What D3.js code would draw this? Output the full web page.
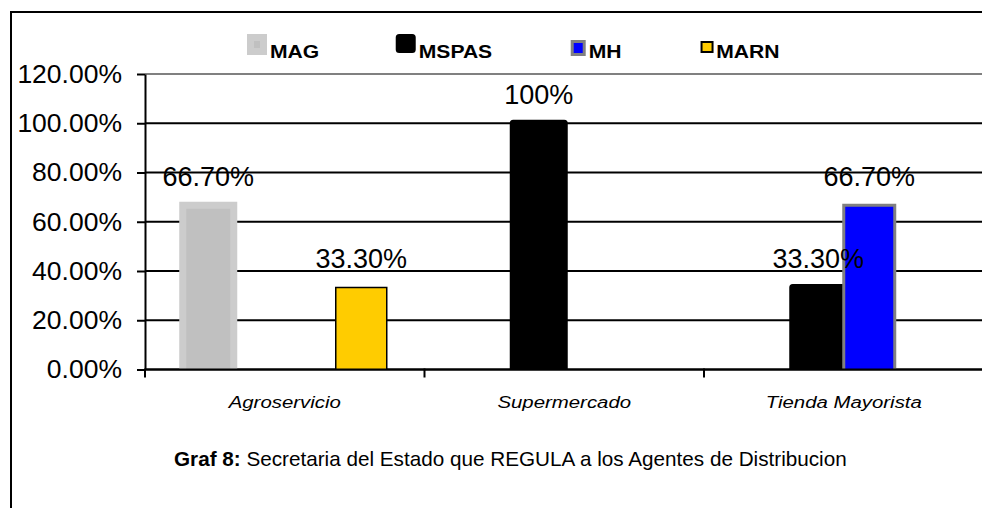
<!DOCTYPE html>
<html>
<head>
<meta charset="utf-8">
<script src="https://cdn.jsdelivr.net/npm/d3@7"></script>
<style>
  body { margin: 0; background: #fff; }
  svg { display: block; font-family: "Liberation Sans", Arial, sans-serif; }
</style>
</head>
<body>
<div id="chart"></div>
<script>
// chart values
var categories = ["Agroservicio", "Supermercado", "Tienda Mayorista"];
var seriesNames = ["MAG", "MSPAS", "MH", "MARN"];
var magValues   = [66.7, 0, 0];
var mspasValues = [0, 100, 33.3];
var mhValues    = [0, 0, 66.7];
var marnValues  = [33.3, 0, 0];
var magLabels   = ["66.70%", "", ""];
var mspasLabels = ["", "100%", "33.30%"];
var mhLabels    = ["", "", "66.70%"];
var marnLabels  = ["33.30%", "", ""];
var yTicks = [0, 20, 40, 60, 80, 100, 120];
var captionBold = "Graf 8:";
var captionText = " Secretaria del Estado que REGULA a los Agentes de Distribucion";

var W = 982, H = 508;
var stretch = 1.2; // the source text is a little wider than Arial

// series styles (fill, stroke, stroke width, join)
var styles = {
	MAG:   { fill: "#c0c0c0", stroke: "#cccccc", sw: 7,   join: "miter" },
	MSPAS: { fill: "#000000", stroke: "#000000", sw: 7,   join: "round" },
	MH:    { fill: "#0000ff", stroke: "#808080", sw: 3,   join: "miter" },
	MARN:  { fill: "#ffcc00", stroke: "#000000", sw: 1.5, join: "miter" }
};

var series = [
	{ name: "MAG",   values: magValues,   labels: magLabels },
	{ name: "MSPAS", values: mspasValues, labels: mspasLabels },
	{ name: "MH",    values: mhValues,    labels: mhLabels },
	{ name: "MARN",  values: marnValues,  labels: marnLabels }
];

// plot area (window.top is reserved, so use other names)
var plotLeft = 145, plotRight = 983.5, plotTop = 74, plotBottom = 369.5;

var x0 = d3.scaleBand().domain(categories).range([plotLeft, plotRight]);
var x1 = d3.scaleBand().domain(seriesNames).range([-102, 102]);
var y = d3.scaleLinear().domain([0, 120]).range([plotBottom, plotTop]);

var svg = d3.select("#chart").append("svg")
	.attr("width", W)
	.attr("height", H);

// outer frame (only top and left visible)
svg.append("path")
	.attr("d", "M11," + H + "V12H" + W)
	.attr("fill", "none")
	.attr("stroke", "#000")
	.attr("stroke-width", 2);

svg.append("clipPath").attr("id", "plotclip")
	.append("rect")
	.attr("x", plotLeft).attr("y", 0)
	.attr("width", plotRight - plotLeft).attr("height", plotBottom);

// gridlines
svg.append("g")
	.selectAll("line")
	.data(yTicks)
	.enter().append("line")
	.attr("x1", plotLeft).attr("x2", plotRight)
	.attr("y1", function(d) { return y(d); })
	.attr("y2", function(d) { return y(d); })
	.attr("stroke", function(d) { return d == 120 ? "#808080" : "#000"; })
	.attr("stroke-width", 2);

// bars
var barData = [];
series.forEach(function(s) {
	s.values.forEach(function(v, i) {
		if (v > 0) barData.push({ series: s.name, cat: categories[i], value: v, label: s.labels[i] });
	});
});

svg.append("g")
	.attr("clip-path", "url(#plotclip)")
	.selectAll("rect")
	.data(barData)
	.enter().append("rect")
	.attr("x", function(d) { return x0(d.cat) + x0.bandwidth() / 2 + x1(d.series); })
	.attr("width", x1.bandwidth())
	.attr("y", function(d) { return y(d.value); })
	.attr("height", function(d) { return plotBottom - y(d.value) + 10; })
	.attr("fill", function(d) { return styles[d.series].fill; })
	.attr("stroke", function(d) { return styles[d.series].stroke; })
	.attr("stroke-width", function(d) { return styles[d.series].sw; })
	.attr("stroke-linejoin", function(d) { return styles[d.series].join; });

// y axis
var yAxis = svg.append("g")
	.attr("transform", "translate(" + plotLeft + ",0)")
	.call(d3.axisLeft(y).tickValues(yTicks).tickSize(8).tickSizeOuter(0).tickPadding(15)
		.tickFormat(function(d) { return d3.format(".2f")(d) + "%"; }));
yAxis.select(".domain").attr("stroke", "#000").attr("stroke-width", 2);
yAxis.selectAll(".tick line").attr("stroke", "#000").attr("stroke-width", 2);
yAxis.selectAll(".tick text")
	.attr("fill", "#000")
	.style("font-size", "26.5px")
	.style("font-family", "'Liberation Sans', Arial, sans-serif");

// x axis line and boundary ticks
svg.append("line")
	.attr("x1", plotLeft).attr("x2", plotRight)
	.attr("y1", plotBottom).attr("y2", plotBottom)
	.attr("stroke", "#000").attr("stroke-width", 2);

svg.append("g")
	.selectAll("line")
	.data(categories)
	.enter().append("line")
	.attr("x1", function(d) { return x0(d); })
	.attr("x2", function(d) { return x0(d); })
	.attr("y1", plotBottom - 1).attr("y2", plotBottom + 8)
	.attr("stroke", "#000").attr("stroke-width", 2);

var xAxis = svg.append("g")
	.attr("transform", "translate(0," + plotBottom + ")")
	.call(d3.axisBottom(x0).tickSize(0).tickPadding(26.5));
xAxis.select(".domain").remove();
xAxis.selectAll(".tick text")
	.attr("fill", "#000")
	.attr("transform", "scale(" + stretch + ",1)")
	.style("font-size", "17px")
	.style("font-style", "italic")
	.style("font-family", "'Liberation Sans', Arial, sans-serif");

// value labels
svg.append("g")
	.selectAll("text")
	.data(barData)
	.enter().append("text")
	.attr("x", function(d) { return x0(d.cat) + x0.bandwidth() / 2 + x1(d.series) + x1.bandwidth() / 2; })
	.attr("y", function(d) { return y(d.value) - 19.5; })
	.attr("text-anchor", "middle")
	.style("font-size", "27px")
	.text(function(d) { return d.label; });

// legend
var legend = svg.append("g");
var lx = 250.5;
seriesNames.forEach(function(name) {
	var st = styles[name];
	var box = { MAG: [13, 14, 37.5], MSPAS: [13, 12, 37.5], MH: [12, 13, 41.5], MARN: [11, 10, 42] }[name];
	legend.append("rect")
		.attr("x", lx).attr("y", box[2])
		.attr("width", box[0]).attr("height", box[1])
		.attr("fill", st.fill)
		.attr("stroke", st.stroke)
		.attr("stroke-width", name == "MARN" ? 2 : st.sw)
		.attr("stroke-linejoin", st.join);
	var tx = lx + box[0] + st.sw / 2 + 3;
	var t = legend.append("text")
		.attr("transform", "translate(" + tx + ",58) scale(" + stretch + ",1)")
		.style("font-size", "17.6px")
		.style("font-weight", "bold")
		.text(name);
	lx = tx + t.node().getComputedTextLength() * stretch + 80;
});

// caption
var cap = svg.append("text")
	.attr("x", 174)
	.attr("y", 466)
	.style("font-size", "20.7px");
cap.append("tspan").style("font-weight", "bold").text(captionBold);
cap.append("tspan").text(captionText);
</script>
</body>
</html>
